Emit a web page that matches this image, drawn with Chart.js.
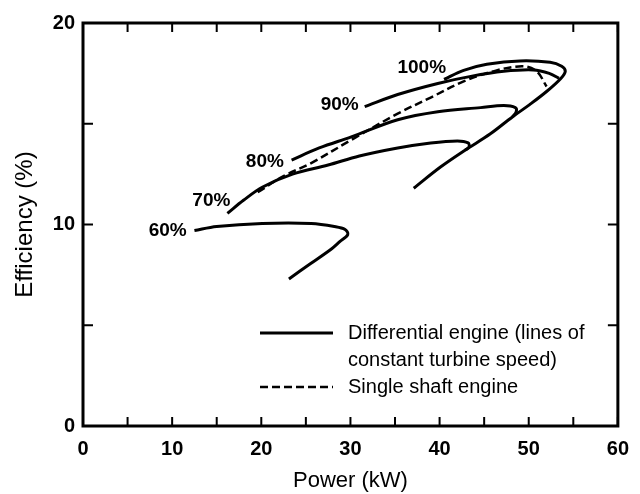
<!DOCTYPE html>
<html>
<head>
<meta charset="utf-8">
<script src="https://cdn.jsdelivr.net/npm/chart.js@4/dist/chart.umd.min.js"></script>
<style>
    html, body { margin: 0; padding: 0; background: #fff; }
</style>
</head>
<body>
<canvas id="chart" width="640" height="494"></canvas>
<script>
// Кривые КПД (мощность кВт, КПД %)
const speed60 = [[12.5, 9.7], [15, 9.9], [20.1, 10.05], [25.6, 10.05], [28.2, 9.9], [29.4, 9.75], [29.7, 9.5], [28.8, 9.15], [27.9, 8.8], [25.5, 8.05], [23.1, 7.3]];
const speed70 = [[16.2, 10.55], [18, 11.2], [20.1, 11.85], [23.5, 12.5], [27.5, 12.95], [31, 13.4], [35.3, 13.8], [39, 14.05], [42, 14.15], [43.2, 14.05], [43.3, 13.85], [42.9, 13.7]];
const speed80 = [[23.4, 13.2], [26.5, 13.8], [30.1, 14.35], [35.3, 15.2], [39.8, 15.6], [44.6, 15.8], [47.2, 15.9], [48.5, 15.8], [48.6, 15.6], [48.2, 15.35]];
const speed90 = [[31.6, 15.85], [35.3, 16.45], [39.8, 17.0], [43.5, 17.35], [47.2, 17.6], [50.5, 17.67], [52.3, 17.5], [53.4, 17.25]];
const speed100 = [[40.5, 17.2], [42.7, 17.65], [45.3, 17.95], [49, 18.12], [52.4, 18.05], [53.7, 17.85], [54.1, 17.6], [53.6, 17.25], [52, 16.6], [50.1, 15.95], [48.2, 15.35], [45.7, 14.5], [42.9, 13.7], [40.1, 12.85], [37.1, 11.8]];
const singleShaft = [[19.6, 11.6], [22.5, 12.4], [25.6, 13.05], [30.1, 14.2], [35.3, 15.5], [39, 16.3], [42.7, 17.1], [46.4, 17.65], [49.4, 17.85], [50.9, 17.6], [52, 16.85]];

const speedCurves = [speed60, speed70, speed80, speed90, speed100];
const speedLabels = ['60%', '70%', '80%', '90%', '100%'];
// где стоят подписи скоростей (в единицах осей)
const speedLabelAt = [[9.5, 9.7], [14.4, 11.2], [20.4, 13.1], [28.8, 15.95], [38, 17.8]];

const xTickMarks = [0, 5, 10, 15, 20, 25, 30, 35, 40, 45, 50, 55, 60];
const yTickMarks = [0, 5, 10, 15, 20];
const legendLabels = [['Differential engine (lines of', 'constant turbine speed)'], ['Single shaft engine']];

const FONT = '"Liberation Sans", Arial, sans-serif';

const toPoints = arr => arr.map(([x, y]) => ({ x, y }));

const datasets = speedCurves.map(c => ({
    data: toPoints(c),
    showLine: true,
    borderColor: '#000',
    borderWidth: 3,
    pointRadius: 0,
    tension: 0.35,
    fill: false
}));
datasets.push({
    data: toPoints(singleShaft),
    showLine: true,
    borderColor: '#000',
    borderWidth: 2.5,
    borderDash: [8, 4],
    pointRadius: 0,
    tension: 0.35,
    fill: false
});

// Рамка, внутренние засечки, подписи и легенда
const decorPlugin = {
    id: 'decor',
    afterDraw(chart) {
        const { ctx, chartArea: a, scales: { x, y } } = chart;
        ctx.save();
        ctx.strokeStyle = '#000';
        ctx.fillStyle = '#000';

        ctx.lineWidth = 3;
        ctx.strokeRect(a.left, a.top, a.right - a.left, a.bottom - a.top);

        ctx.lineWidth = 2;
        ctx.beginPath();
        xTickMarks.forEach(v => {
            const px = x.getPixelForValue(v);
            ctx.moveTo(px, a.bottom); ctx.lineTo(px, a.bottom - 9);
            ctx.moveTo(px, a.top); ctx.lineTo(px, a.top + 9);
        });
        yTickMarks.forEach(v => {
            const py = y.getPixelForValue(v);
            ctx.moveTo(a.left, py); ctx.lineTo(a.left + 10, py);
            ctx.moveTo(a.right, py); ctx.lineTo(a.right - 10, py);
        });
        ctx.stroke();

        ctx.font = 'bold 19px ' + FONT;
        ctx.textAlign = 'center';
        ctx.textBaseline = 'middle';
        speedLabels.forEach((t, i) => {
            ctx.fillText(t, x.getPixelForValue(speedLabelAt[i][0]), y.getPixelForValue(speedLabelAt[i][1]));
        });

        // легенда
        const lx0 = a.left + 177, lx1 = a.left + 250, tx = a.left + 265;
        const rows = [a.top + 310, a.top + 364];
        ctx.lineWidth = 3;
        ctx.beginPath();
        ctx.moveTo(lx0, rows[0]); ctx.lineTo(lx1, rows[0]);
        ctx.stroke();
        ctx.lineWidth = 2.5;
        ctx.setLineDash([8, 4]);
        ctx.beginPath();
        ctx.moveTo(lx0, rows[1]); ctx.lineTo(lx1, rows[1]);
        ctx.stroke();
        ctx.setLineDash([]);

        ctx.font = '20px ' + FONT;
        ctx.textAlign = 'left';
        ctx.fillText(legendLabels[0][0], tx, rows[0]);
        ctx.fillText(legendLabels[0][1], tx, rows[0] + 27);
        ctx.fillText(legendLabels[1][0], tx, rows[1]);
        ctx.restore();
    }
};

const ctx = document.getElementById('chart').getContext('2d');
new Chart(ctx, {
    type: 'scatter',
    data: { datasets },
    options: {
        responsive: false,
        animation: false,
        layout: { padding: { top: 23, right: 18, left: 0, bottom: 0 } },
        plugins: {
            legend: { display: false },
            tooltip: { enabled: false }
        },
        scales: {
            x: {
                type: 'linear',
                min: 0,
                max: 60,
                afterFit: s => { s.height = 68; },
                grid: { display: false, drawTicks: false },
                border: { display: false },
                ticks: { stepSize: 10, padding: 11, color: '#000', font: { family: FONT, size: 20, weight: 'bold' } },
                title: { display: true, text: 'Power (kW)', color: '#000', padding: 0, font: { family: FONT, size: 22 } }
            },
            y: {
                type: 'linear',
                min: 0,
                max: 20,
                afterFit: s => { s.width = 83; },
                grid: { display: false, drawTicks: false },
                border: { display: false },
                ticks: { stepSize: 10, padding: 8, color: '#000', font: { family: FONT, size: 20, weight: 'bold' } },
                title: { display: true, text: 'Efficiency (%)', color: '#000', padding: { top: 11, bottom: 0 }, font: { family: FONT, size: 24 } }
            }
        }
    },
    plugins: [decorPlugin]
});
</script>
</body>
</html>
